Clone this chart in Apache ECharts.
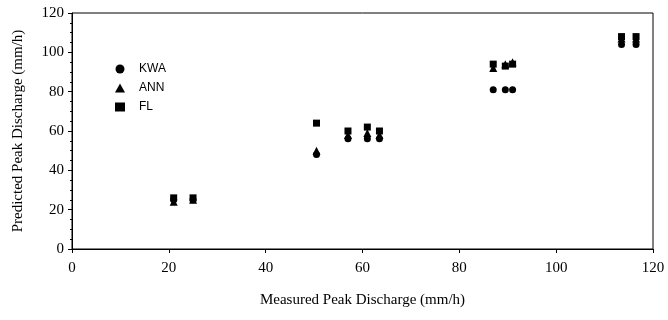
<!DOCTYPE html>
<html>
<head>
<meta charset="utf-8">
<script src="https://cdn.jsdelivr.net/npm/echarts@6/dist/echarts.min.js"></script>
<style>
  html, body { margin: 0; padding: 0; background: #fff; }
  #chart { width: 668px; height: 320px; }
</style>
</head>
<body>
<div id="chart"></div>
<script>
// measured peak discharge (mm/h) for each event
const measured = [21, 25, 50.5, 57, 61, 63.5, 87, 89.5, 91, 113.5, 116.5]
// predicted peak discharge per model
const kwa = [25, 25, 48, 56, 56, 56, 81, 81, 81, 104, 104]
const ann = [24, 25, 50, 58, 59, 58, 92, 94, 95, 107, 107]
const fl = [26, 26, 64, 60, 62, 60, 94, 93, 94, 108, 108]
const axisTicks = [0, 20, 40, 60, 80, 100, 120]

const pairs = ys => measured.map((x, i) => [x, ys[i]])

const chart = echarts.init(document.getElementById('chart'))

const serif = '"Liberation Serif", "Times New Roman", serif'
const axisCommon = {
  type: 'value',
  min: axisTicks[0],
  max: axisTicks[axisTicks.length - 1],
  interval: 20,
  splitLine: { show: false },
  axisLine: { show: true, lineStyle: { color: '#000', width: 1 } },
  axisTick: { show: true, length: 4, lineStyle: { color: '#000' } },
  axisLabel: { color: '#000', fontFamily: serif, fontSize: 15 },
  nameTextStyle: { color: '#000', fontFamily: serif, fontSize: 15 }
}

const dot = { color: '#000', opacity: 1 }

chart.setOption({
  animation: false,
  grid: {
    left: 72, right: 15, top: 13, bottom: 71,
    show: true, borderColor: '#000', borderWidth: 1
  },
  legend: {
    orient: 'vertical',
    left: 110,
    top: 58,
    itemGap: 7,
    itemWidth: 10,
    itemHeight: 9,
    textStyle: { color: '#000', fontFamily: '"Liberation Sans", Arial, sans-serif', fontSize: 12, padding: [0, 0, 0, 9] },
    data: ['KWA', 'ANN', 'FL']
  },
  xAxis: {
    ...axisCommon,
    name: 'Measured Peak Discharge (mm/h)',
    nameLocation: 'middle',
    nameGap: 44,
    axisLabel: { ...axisCommon.axisLabel, margin: 12 }
  },
  yAxis: {
    ...axisCommon,
    name: 'Predicted Peak Discharge (mm/h)',
    nameLocation: 'middle',
    nameGap: 46,
    minorTick: { show: true, splitNumber: 4, length: 2, lineStyle: { color: '#000' } },
    axisLabel: { ...axisCommon.axisLabel, margin: 8 }
  },
  series: [
    { name: 'KWA', type: 'scatter', symbol: 'circle', symbolSize: 7, itemStyle: dot, data: pairs(kwa) },
    { name: 'ANN', type: 'scatter', symbol: 'triangle', symbolSize: 8, itemStyle: dot, data: pairs(ann) },
    { name: 'FL', type: 'scatter', symbol: 'rect', symbolSize: 7, itemStyle: dot, data: pairs(fl) }
  ]
})
</script>
</body>
</html>
